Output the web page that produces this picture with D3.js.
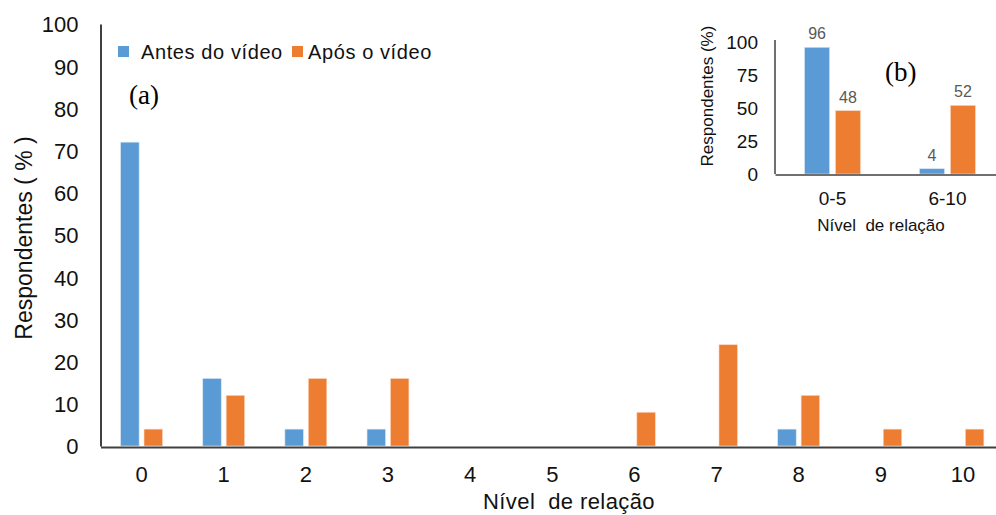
<!DOCTYPE html>
<html><head><meta charset="utf-8">
<script src="https://cdn.jsdelivr.net/npm/d3@7"></script>
<style>body{margin:0;background:#fff}svg{display:block}text{font-family:"Liberation Sans",Arial,sans-serif}</style>
</head><body>
<svg id="c" width="996" height="515"></svg>
<script>
const categories = ["0","1","2","3","4","5","6","7","8","9","10"];
const seriesNames = ["Antes do vídeo","Após o vídeo"];
const antes = [72,16,4,4,0,0,0,0,4,0,0];
const apos  = [4,12,16,16,0,0,8,24,12,4,4];
const yTicks = [0,10,20,30,40,50,60,70,80,90,100];

const insetCategories = ["0-5","6-10"];
const insetAntes = [96,4];
const insetApos  = [48,52];
const insetYTicks = [0,25,50,75,100];

const colors = ["#5B9BD5","#ED7D31"];
const axisColor = "#404040";
const svg = d3.select("#c");

// ---------- main chart ----------
const x = d3.scaleBand().domain(categories).range([100.5,1004]).paddingInner(0.49).paddingOuter(0.245);
const xs = d3.scaleBand().domain(seriesNames).range([0,x.bandwidth()]).paddingInner(0.21).paddingOuter(0);
const y = d3.scaleLinear().domain([0,100]).range([446,24]);

const data = categories.map((c,i)=>({c, vals:[antes[i],apos[i]]}));
const g = svg.append("g");
g.selectAll("g.grp").data(data).join("g").attr("class","grp")
  .attr("transform",d=>`translate(${x(d.c)},0)`)
  .selectAll("rect").data(d=>d.vals.map((v,k)=>({v,k}))).join("rect")
  .attr("x",d=>xs(seriesNames[d.k])).attr("width",xs.bandwidth())
  .attr("y",d=>y(d.v)).attr("height",d=>y(0)-y(d.v))
  .attr("fill",d=>colors[d.k]).attr("stroke-width",0.6)
  .attr("stroke",d=>d.k===0?"#d6e6f5":"#fbd9c4");

const yAxis = g.append("g").attr("transform","translate(100.5,0)")
  .call(d3.axisLeft(y).tickValues(yTicks).tickSize(0).tickSizeOuter(0).tickPadding(22));
yAxis.select(".domain").attr("stroke",axisColor).attr("stroke-width",2);
yAxis.selectAll("text").attr("font-size",22).attr("fill","#111").attr("dy","0.36em");

const xAxis = g.append("g").attr("transform",`translate(0,${y(0)+1})`)
  .call(d3.axisBottom(x).tickSize(0).tickSizeOuter(0).tickPadding(19));
xAxis.select(".domain").attr("stroke",axisColor).attr("stroke-width",2);
xAxis.selectAll("text").attr("font-size",22).attr("fill","#111");

svg.append("text").attr("transform","translate(32,238) rotate(-90)")
  .attr("text-anchor","middle").attr("font-size",23).attr("fill","#111")
  .text("Respondentes ( % )");
svg.append("text").attr("x",569).attr("y",509).attr("text-anchor","middle")
  .attr("font-size",22).attr("fill","#111").attr("letter-spacing",0.4)
  .style("white-space","pre").text("Nível  de relação");

// legend
const leg = svg.append("g");
const legX = [118,292], legTX=[141,308];
seriesNames.forEach((n,i)=>{
  leg.append("rect").attr("x",legX[i]).attr("y",46).attr("width",11).attr("height",11).attr("fill",colors[i]);
  leg.append("text").attr("x",legTX[i]).attr("y",59).attr("font-size",20).attr("fill","#111").attr("letter-spacing",0.6).text(n);
});
svg.append("text").attr("x",129).attr("y",104)
  .style("font-family","'Liberation Serif','Times New Roman',serif")
  .attr("font-size",27).attr("fill","#000").text("(a)");

// ---------- inset ----------
const ix = d3.scaleBand().domain(insetCategories).range([775,1005]).paddingInner(0.513).paddingOuter(0.257);
const ixs = d3.scaleBand().domain(seriesNames).range([0,ix.bandwidth()]).paddingInner(0.19).paddingOuter(0);
const iy = d3.scaleLinear().domain([0,100]).range([174,42]);
const idata = insetCategories.map((c,i)=>({c, vals:[insetAntes[i],insetApos[i]]}));
const ig = svg.append("g");
const grp = ig.selectAll("g.igrp").data(idata).join("g").attr("class","igrp")
  .attr("transform",d=>`translate(${ix(d.c)},0)`);
grp.selectAll("rect").data(d=>d.vals.map((v,k)=>({v,k}))).join("rect")
  .attr("x",d=>ixs(seriesNames[d.k])).attr("width",ixs.bandwidth())
  .attr("y",d=>iy(d.v)).attr("height",d=>iy(0)-iy(d.v))
  .attr("fill",d=>colors[d.k]).attr("stroke",d=>d.k===0?"#d6e6f5":"#fbd9c4").attr("stroke-width",0.6);
grp.selectAll("text.val").data(d=>d.vals.map((v,k)=>({v,k}))).join("text").attr("class","val")
  .attr("x",d=>ixs(seriesNames[d.k])+ixs.bandwidth()/2).attr("y",d=>iy(d.v)-8)
  .attr("text-anchor","middle").attr("font-size",16).attr("fill","#595959").text(d=>d.v);

const iyAxis = ig.append("g").attr("transform","translate(775,0)")
  .call(d3.axisLeft(iy).tickValues(insetYTicks).tickSize(0).tickSizeOuter(0).tickPadding(17));
iyAxis.select(".domain").attr("stroke",axisColor).attr("stroke-width",1.5)
  .attr("d",`M0,40V${iy(0)}`);
iyAxis.selectAll("text").attr("font-size",19).attr("fill","#111").attr("dy","0.36em");
const ixAxis = ig.append("g").attr("transform",`translate(0,${iy(0)+0.5})`)
  .call(d3.axisBottom(ix).tickSize(0).tickSizeOuter(0).tickPadding(17));
ixAxis.select(".domain").attr("stroke",axisColor).attr("stroke-width",1.5);
ixAxis.selectAll("text").attr("font-size",19).attr("fill","#111");
svg.append("text").attr("transform","translate(713,96) rotate(-90)")
  .attr("text-anchor","middle").attr("font-size",17).attr("fill","#111").text("Respondentes (%)");
svg.append("text").attr("x",881).attr("y",231).attr("text-anchor","middle")
  .attr("font-size",17).attr("fill","#111").style("white-space","pre").text("Nível  de relação");
svg.append("text").attr("x",885).attr("y",81)
  .style("font-family","'Liberation Serif','Times New Roman',serif")
  .attr("font-size",27).attr("fill","#000").text("(b)");
</script>
</body></html>
